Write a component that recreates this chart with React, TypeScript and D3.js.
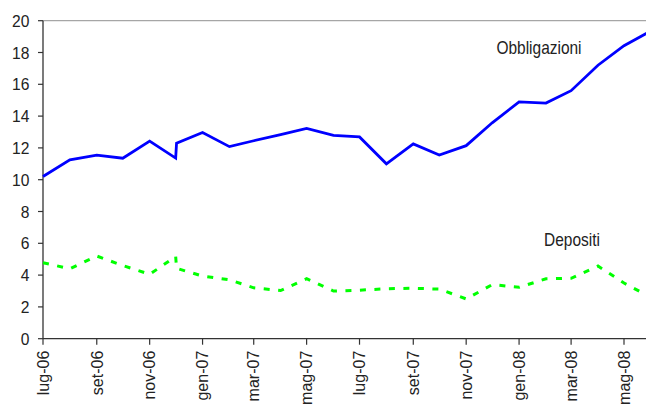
import React from "react";
import * as d3 from "d3";

// Monthly observations (the December 2006 month carries two readings)
const dates: string[] = [
  "2006-07-01", "2006-08-01", "2006-09-01", "2006-10-01", "2006-11-01",
  "2006-12-01", "2006-12-02", "2007-01-01", "2007-02-01", "2007-03-01",
  "2007-04-01", "2007-05-01", "2007-06-01", "2007-07-01", "2007-08-01",
  "2007-09-01", "2007-10-01", "2007-11-01", "2007-12-01", "2008-01-01",
  "2008-02-01", "2008-03-01", "2008-04-01", "2008-05-01", "2008-06-01",
];

const obbligazioni: number[] = [
  10.2, 11.25, 11.55, 11.35, 12.43,
  11.36, 12.29, 12.97, 12.08, 12.45,
  12.83, 13.23, 12.79, 12.69, 11.0,
  12.25, 11.55, 12.14, 13.58, 14.89,
  14.82, 15.6, 17.2, 18.43, 19.35,
];

const depositi: number[] = [
  4.78, 4.4, 5.2, 4.6, 4.05,
  5.17, 4.43, 3.94, 3.7, 3.2,
  3.03, 3.77, 3.0, 3.05, 3.14,
  3.17, 3.12, 2.5, 3.4, 3.23,
  3.77, 3.8, 4.57, 3.5, 2.6,
];

const tickDates: string[] = [
  "2006-07-01", "2006-09-01", "2006-11-01", "2007-01-01", "2007-03-01", "2007-05-01",
  "2007-07-01", "2007-09-01", "2007-11-01", "2008-01-01", "2008-03-01", "2008-05-01",
];
const tickLabels: string[] = [
  "lug-06", "set-06", "nov-06", "gen-07", "mar-07", "mag-07",
  "lug-07", "set-07", "nov-07", "gen-08", "mar-08", "mag-08",
];

const yTicks: number[] = [0, 2, 4, 6, 8, 10, 12, 14, 16, 18, 20];

const W = 646;
const H = 406;
const FONT = "'Liberation Sans', Arial, sans-serif";

export default function App() {
  const parse = d3.utcParse("%Y-%m-%d");
  const x = d3
    .scaleUtc()
    .domain([parse("2006-07-01")!, parse("2008-05-01")!])
    .range([43, 624]);
  const y = d3.scaleLinear().domain([0, 20]).range([338.7, 20.7]);

  const pts = dates.map((d, i) => ({
    t: parse(d)!,
    o: obbligazioni[i],
    d: depositi[i],
  }));

  const lineO = d3
    .line<{ t: Date; o: number; d: number }>()
    .x((p) => x(p.t))
    .y((p) => y(p.o));
  const lineD = d3
    .line<{ t: Date; o: number; d: number }>()
    .x((p) => x(p.t))
    .y((p) => y(p.d));

  const x0 = x.range()[0];
  const yBase = y(0);

  return (
    <>
      <style>{`body{margin:0}`}</style>
      <svg width={W} height={H} style={{ display: "block", background: "#fff" }}>
        {/* top frame line */}
        <line x1={x0} x2={W} y1={y(20)} y2={y(20)} stroke="#a6a6a6" strokeWidth={1.2} />

        {/* y axis */}
        <line x1={x0} x2={x0} y1={y(20)} y2={yBase} stroke="#333" strokeWidth={1.3} />
        {yTicks.map((v) => (
          <g key={v}>
            <line x1={x0 - 5} x2={x0} y1={y(v)} y2={y(v)} stroke="#333" strokeWidth={1.2} />
            <text
              transform={`translate(29.5,${y(v)}) scale(0.92,1)`}
              dy="0.36em"
              textAnchor="end"
              fontFamily={FONT}
              fontSize={17}
              fill="#222"
            >
              {v}
            </text>
          </g>
        ))}

        {/* x axis */}
        <line x1={x0} x2={W} y1={yBase} y2={yBase} stroke="#333" strokeWidth={1.3} />
        {tickDates.map((d, i) => {
          const tx = x(parse(d)!);
          return (
            <g key={d}>
              <line x1={tx} x2={tx} y1={yBase} y2={yBase + 6} stroke="#333" strokeWidth={1.2} />
              <text
                transform={`translate(${tx},${yBase + 12}) rotate(-90)`}
                dy="0.36em"
                textAnchor="end"
                fontFamily={FONT}
                fontSize={16}
                fill="#222"
              >
                {tickLabels[i]}
              </text>
            </g>
          );
        })}

        {/* series */}
        <path d={lineO(pts) ?? ""} fill="none" stroke="#0000ff" strokeWidth={2.8} strokeLinejoin="miter" />
        <path
          d={lineD(pts) ?? ""}
          fill="none"
          stroke="#00ff00"
          strokeWidth={3}
          strokeDasharray="6 8.5"
        />

        {/* series labels */}
        <text
          transform="translate(539,54) scale(0.86,1)"
          textAnchor="middle"
          fontFamily={FONT}
          fontSize={18}
          fill="#222"
        >
          Obbligazioni
        </text>
        <text
          transform="translate(572,246) scale(0.86,1)"
          textAnchor="middle"
          fontFamily={FONT}
          fontSize={18}
          fill="#222"
        >
          Depositi
        </text>
      </svg>
    </>
  );
}
